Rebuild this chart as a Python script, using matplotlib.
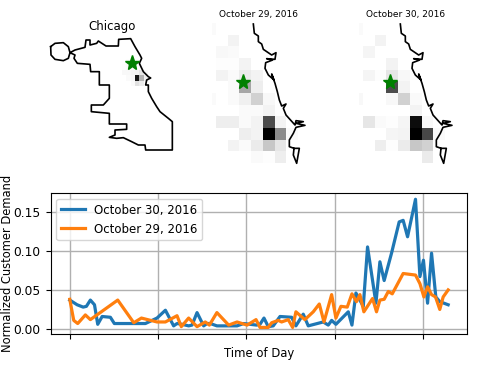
import numpy as np
import matplotlib
matplotlib.use("Agg")
import matplotlib.pyplot as plt

FIG_W, FIG_H = 479, 370

# demand curves: hour of day, normalized demand
oct30_hours = [0, .5, .91, 1.13, 1.4, 1.68, 1.9, 2.2, 2.76, 3.03, 5.14, 5.93, 6.5, 7.06, 7.29, 7.63, 8.08, 8.31,
               8.65, 9.1, 9.33, 9.55, 10.0, 11.37, 11.82, 12.25, 12.7, 12.93, 13.2, 13.49, 13.83, 14.29, 15.08,
               15.37, 15.87, 16.21, 17.23, 17.57, 17.8, 18.09, 18.93, 19.18, 19.45, 19.95, 20.24, 20.51, 20.81,
               21.08, 21.37, 21.87, 22.39, 22.66, 22.96, 23.5, 23.8, 24.04, 24.32, 24.59, 24.88, 25.15, 25.72]
oct30_demand = [.037, .031, .028, .029, .037, .031, .006, .016, .015, .007, .007, .014, .024, .004, .007, .006,
                .004, .005, .021, .004, .007, .007, .004, .004, .007, .006, .005, .006, .014, .003, .004, .016,
                .015, .004, .019, .004, .009, .005, .011, .006, .022, .005, .046, .029, .105, .071, .033, .086,
                .062, .097, .137, .139, .118, .166, .067, .088, .033, .097, .041, .035, .031]
oct29_hours = [0, .27, .54, 1.06, 1.4, 3.26, 4.35, 4.87, 5.93, 6.5, 7.29, 7.58, 8.08, 8.65, 9.21, 9.49, 10.0, 10.8,
               11.37, 12.05, 12.66, 12.93, 13.49, 13.72, 14.17, 14.4, 14.85, 15.15, 15.37, 15.98, 16.55, 16.96,
               17.28, 17.8, 18.09, 18.43, 18.86, 19.18, 19.49, 19.72, 19.99, 20.58, 20.85, 21.08, 21.37, 21.65,
               21.92, 22.66, 23.5, 23.8, 24.07, 24.32, 24.59, 24.86, 25.15, 25.38, 25.72]
oct29_demand = [.038, .011, .007, .018, .012, .037, .008, .014, .009, .009, .017, .003, .014, .003, .009, .005,
                .021, .005, .009, .005, .012, .002, .002, .008, .011, .009, .012, .002, .022, .012, .022, .032,
                .009, .044, .014, .029, .028, .045, .035, .044, .022, .039, .022, .037, .038, .048, .045, .071,
                .069, .058, .041, .054, .044, .041, .025, .041, .05]
hour_ticks = [0, 6, 12, 18, 24]
demand_ticks = [0.0, 0.05, 0.10, 0.15]

# city outline and shoreline, map units
city_x = [152, 165, 190, 205, 210, 225, 255, 258, 270, 270, 290, 295, 318, 355, 356, 392, 405, 420, 425, 418, 430,
          445, 452, 440, 437, 445, 445, 455, 470, 480, 505, 517, 517, 437, 435, 415, 395, 370, 350, 328, 345, 345,
          380, 380, 328, 328, 274, 274, 310, 328, 328, 298, 298, 272, 270, 232, 222, 225, 210, 205, 190, 165, 153,
          152]
city_y = [140, 130, 128, 140, 158, 150, 142, 120, 120, 135, 130, 123, 138, 138, 118, 116, 140, 165, 175, 190, 215,
          230, 234, 240, 255, 255, 275, 295, 320, 335, 355, 365, 450, 450, 435, 435, 425, 413, 415, 412, 405, 390,
          388, 372, 372, 340, 335, 315, 315, 295, 255, 255, 215, 215, 193, 190, 175, 165, 158, 175, 182, 178, 165,
          140]
shore_x = [160, 163, 175, 175, 185, 190, 215, 228, 225, 200, 218, 197, 195, 205, 222, 215, 225, 232, 238, 245, 258,
           250, 258, 285, 288, 310, 288, 315, 288, 280, 268, 268, 282, 280, 290, 298, 282]
shore_y = [72, 100, 108, 125, 132, 148, 165, 158, 178, 176, 180, 188, 205, 225, 240, 222, 250, 275, 300, 318, 312,
           325, 345, 375, 362, 365, 370, 376, 382, 400, 420, 440, 445, 465, 490, 445, 445]

# demand grids over the downtown area
oct29_grid = np.array([
    [.02, 0, 0, 0, 0, 0, 0, 0],
    [0, 0, .05, 0, 0, 0, 0, 0],
    [0, .03, .02, 0, 0, 0, 0, 0],
    [0, .01, .01, .05, 0, 0, 0, 0],
    [0, .05, .02, .08, .05, 0, 0, 0],
    [0, 0, .02, .35, .07, 0, 0, 0],
    [.02, 0, .02, .06, .18, .03, 0, 0],
    [0, 0, 0, .02, .02, .05, 0, 0],
    [0, .07, .07, .02, .05, .7, .05, 0],
    [0, 0, 0, .07, .05, 1, .45, .02],
    [0, 0, .05, .02, .08, .22, .1, 0],
    [0, 0, 0, 0, .02, .01, .07, 0]])
oct30_grid = np.array([
    [.02, 0, 0, 0, 0, 0, 0, 0],
    [0, 0, .05, 0, 0, 0, 0, 0],
    [0, .04, 0, 0, 0, 0, 0, 0],
    [0, 0, 0, .05, 0, 0, 0, 0],
    [0, .04, .01, .1, .03, 0, 0, 0],
    [0, 0, 0, .7, .05, 0, 0, 0],
    [.03, 0, 0, .03, .18, .02, 0, 0],
    [0, 0, 0, 0, 0, .05, 0, 0],
    [0, .1, .02, .01, .04, .95, .03, 0],
    [0, 0, 0, .04, .05, 1, .72, .02],
    [0, 0, .07, .01, .08, .22, .18, 0],
    [0, 0, 0, 0, 0, 0, .08, 0]])
city_grid = np.array([
    [0, .01, .01, .01, 0, 0],
    [.01, .02, .02, .01, .01, 0],
    [.03, .03, .04, .05, .1, .03],
    [0, .02, .03, .9, .3, .06],
    [0, 0, .02, .12, .08, .01]])

star_city = (395, 190)
star_day = (130, 245)


def pixel_axes(left, top, right, bottom):
    return plt.axes([left / FIG_W, 1 - bottom / FIG_H, (right - left) / FIG_W, (bottom - top) / FIG_H])


def draw_map(ax, title, xs, ys, grid, extent, star, title_size, title_pad, title_x):
    ax.imshow(grid, cmap="gray_r", vmin=0, vmax=1, extent=extent, aspect="auto",
              interpolation="nearest", zorder=1)
    ax.plot(xs, ys, color="black", lw=1.2, zorder=2)
    ax.plot(star[0], star[1], marker="*", color="green", ms=11, zorder=3)
    ax.set_title(title, fontsize=title_size, pad=title_pad, x=title_x)
    ax.axis("off")


fig = plt.figure(figsize=(FIG_W / 100, FIG_H / 100), dpi=100)

# map axes: zoomed units are 3 per output pixel
ax_city = pixel_axes(33, 33, 180, 160)
draw_map(ax_city, "Chicago", city_x, city_y, city_grid, (365, 443, 258, 178), star_city, 8.5, 1, 0.535)
ax_city.set_xlim(99, 540)
ax_city.set_ylim(480, 99)

for left, grid, title in [(200, oct29_grid, "October 29, 2016"), (347, oct30_grid, "October 30, 2016")]:
    # first grid column is cut by the panel edge
    ax_day = pixel_axes(left + 35 / 3, 20, left + 110, 170)
    draw_map(ax_day, title, shore_x, shore_y, grid, (12, 292, 490, 73), star_day, 6.5, 2, 0.476)
    ax_day.set_xlim(35, 330)
    ax_day.set_ylim(510, 60)

# demand over the day
ax = pixel_axes(50.5, 193, 467, 334)
ax.plot(oct30_hours, oct30_demand, color="C0", lw=2.3, label="October 30, 2016")
ax.plot(oct29_hours, oct29_demand, color="C1", lw=2.3, label="October 29, 2016")
ax.set_xlim(-1.31, 27.0)
ax.set_ylim(-0.0064, 0.174)
ax.set_xticks(hour_ticks)
ax.set_xticklabels([])
ax.set_yticks(demand_ticks)
ax.set_yticklabels(["0.00", "0.05", "0.10", "0.15"])
ax.tick_params(labelsize=8.8)
ax.grid(True, color="#b0b0b0", lw=1)
ax.set_axisbelow(True)
ax.set_xlabel("Time of Day", fontsize=8.4, labelpad=2)
ax.set_ylabel("Normalized Customer Demand", fontsize=8.3)
ax.yaxis.set_label_coords(-0.088, 0.5)
ax.legend(loc="upper left", fontsize=8.5, borderaxespad=0.5)

fig.savefig("out.png", dpi=100)
